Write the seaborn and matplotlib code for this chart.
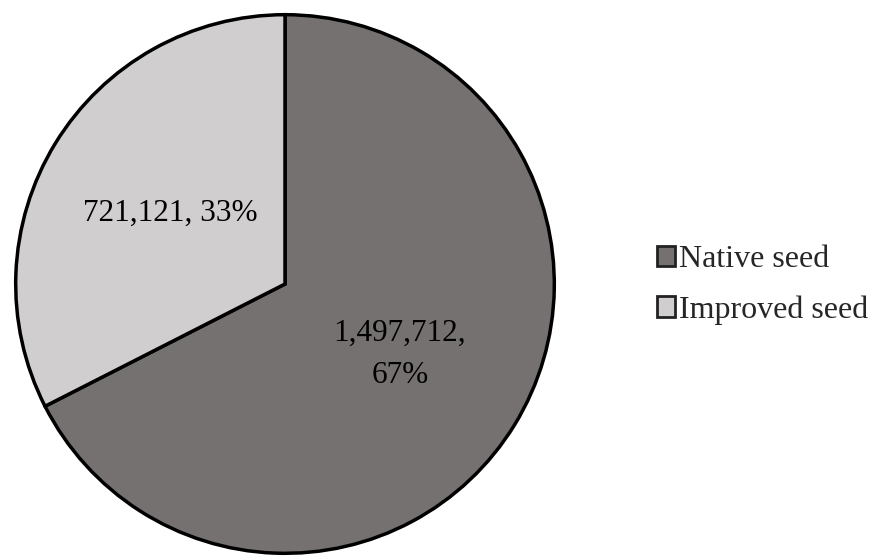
import matplotlib
matplotlib.use("Agg")
import matplotlib.pyplot as plt
import seaborn as sns
from matplotlib.patches import Patch

categories = ["Native seed", "Improved seed"]
values = [1497712, 721121]
colors = ["#767171", "#d0cece"]

sns.set_theme(style="white")
plt.rcParams['font.family'] = ['Liberation Serif', 'DejaVu Serif']

W, H = 875, 557
fig = plt.figure(figsize=(W / 100, H / 100), dpi=100)
cx, cy, r = 285, 557 - 284, 272
ax = fig.add_axes([(cx - r) / W, (cy - r) / H, 2 * r / W, 2 * r / H])

total = sum(values)

def fmt(pct):
    v = int(round(pct * total / 100.0))
    if v > 1000000:
        return f"{v:,},\n{pct:.0f}%"
    return f"{v:,}, {pct:.0f}%"

wedges, texts, autotexts = ax.pie(
    values, colors=colors, startangle=90, counterclock=False,
    autopct=fmt, pctdistance=0.5, radius=1,
    wedgeprops=dict(edgecolor="black", linewidth=2.5),
    textprops=dict(fontsize=22.5, color="black", linespacing=1.6),
)

ax.set_xlim(-1.01, 1.01)
ax.set_ylim(-1.01, 1.01)
ax.set_aspect("equal")
ax.axis("off")

handles = [Patch(facecolor=c, edgecolor="#222222", linewidth=2) for c in colors]
fig.legend(handles, categories, loc="center left",
           bbox_to_anchor=(657 / W, 1 - 285 / H), frameon=False,
           fontsize=23, handlelength=0.55, handleheight=0.6,
           handletextpad=0.15, labelspacing=0.65, borderpad=0, borderaxespad=0)

fig.savefig("out.png", dpi=100)
